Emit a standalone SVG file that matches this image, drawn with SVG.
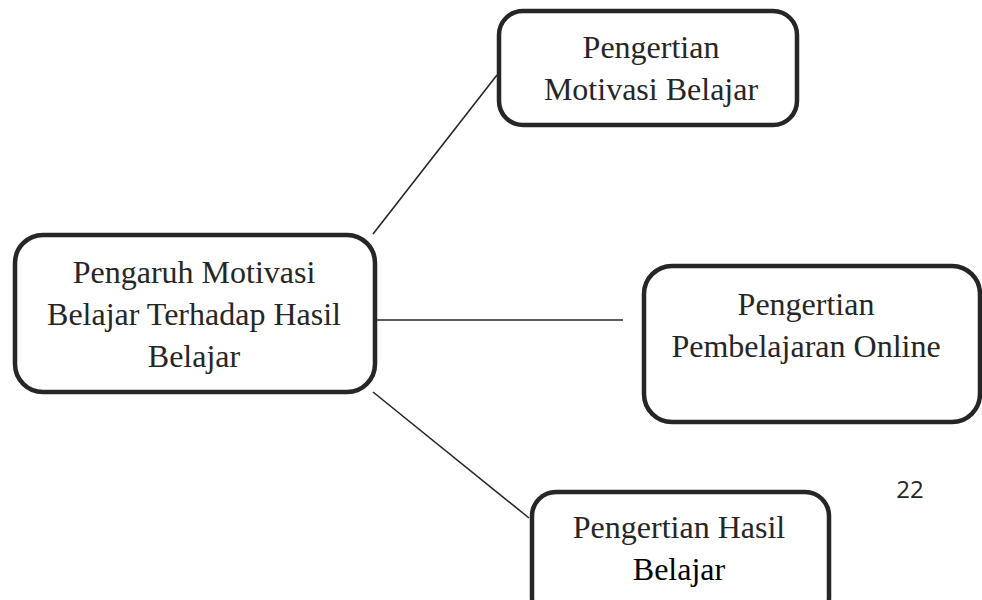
<svg xmlns="http://www.w3.org/2000/svg" width="982" height="600" viewBox="0 0 982 600">
<style>
.box{fill:#fff;stroke:#262626;stroke-width:4.5}
.t{font-family:"Liberation Serif","Times New Roman",serif;font-size:32px;fill:#262626;text-anchor:middle}
.c{stroke:#262626;stroke-width:1.6;fill:none}
</style>
<rect width="982" height="600" fill="#fff"/>
<g id="connectors">
<line class="c" x1="373" y1="234" x2="497" y2="75"/>
<line class="c" x1="376" y1="320" x2="623" y2="320"/>
<line class="c" x1="373" y1="392" x2="529" y2="518"/>
</g>
<g id="n-main">
<rect class="box" x="15" y="235" width="360" height="157" rx="28"/>
<text class="t" x="194" y="283">Pengaruh Motivasi</text>
<text class="t" x="194" y="325">Belajar Terhadap Hasil</text>
<text class="t" x="194" y="367">Belajar</text>
</g>
<g id="n-motivasi">
<rect class="box" x="499" y="11" width="298" height="114" rx="24"/>
<text class="t" x="651" y="58">Pengertian</text>
<text class="t" x="651" y="100">Motivasi Belajar</text>
</g>
<g id="n-online">
<rect class="box" x="644" y="266" width="336" height="156" rx="28"/>
<text class="t" x="806" y="315">Pengertian</text>
<text class="t" x="806" y="357">Pembelajaran Online</text>
</g>
<g id="n-hasil">
<rect class="box" x="532" y="492" width="297" height="130" rx="24"/>
<text class="t" x="679" y="538">Pengertian Hasil</text>
<text class="t" x="679" y="580" style="fill:#000">Belajar</text>
</g>
<text x="910" y="498" font-family="'Open Sans','Liberation Sans',sans-serif" font-size="24" fill="#262626" text-anchor="middle">22</text>
</svg>
